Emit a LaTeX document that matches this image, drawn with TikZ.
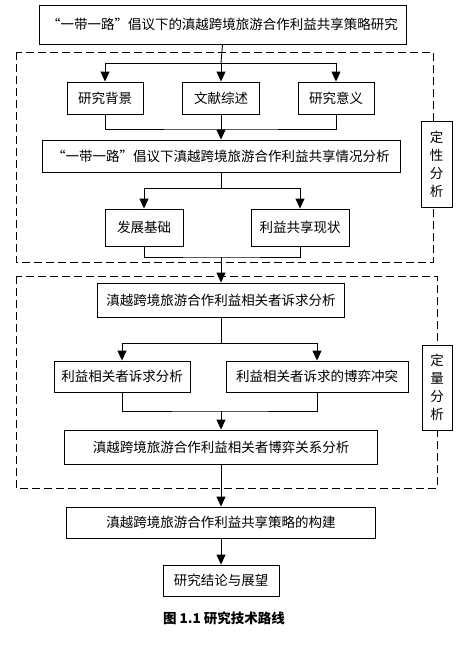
\documentclass[tikz,border=0pt]{standalone}
\usepackage{fontspec}
\setmainfont{Noto Sans CJK SC}
\usetikzlibrary{arrows.meta}
\tikzset{
  box/.style={draw, fill=white, line width=0.9pt, inner sep=0pt, anchor=center, font=\fontsize{13.5}{15}\selectfont},
  sidebox/.style={box, align=center, font=\fontsize{13.5}{18}\selectfont},
  arr/.style={-{Triangle[length=10pt,width=9pt]}, line width=0.9pt},
  ln/.style={line width=0.9pt},
  dbox/.style={draw, line width=0.9pt, dash pattern=on 8pt off 4pt}
}
\begin{document}
\begin{tikzpicture}[x=1pt,y=-1pt]
\useasboundingbox (0,0) rectangle (463,646);
% dashed groups
\draw[dbox] (16,52) rectangle (433,262);
\draw[dbox] (16,276) rectangle (437,488);
% nodes
\node[box, minimum width=367, minimum height=39] (top) at (222.5,24.5) {“一带一路”倡议下的滇越跨境旅游合作利益共享策略研究};
\node[box, minimum width=76, minimum height=32] (bg) at (105,98) {研究背景};
\node[box, minimum width=77, minimum height=32] (wx) at (221,98) {文献综述};
\node[box, minimum width=76, minimum height=32] (yy) at (336,98) {研究意义};
\node[box, minimum width=358, minimum height=32] (qk) at (221,156) {“一带一路”倡议下滇越跨境旅游合作利益共享情况分析};
\node[box, minimum width=78, minimum height=37] (fz) at (144,227.5) {发展基础};
\node[box, minimum width=98, minimum height=37] (xz) at (300,227.5) {利益共享现状};
\node[sidebox, minimum width=31, minimum height=86] (dx) at (436.5,164) {定\\性\\分\\析};
\node[box, minimum width=247, minimum height=34] (sq) at (221,300) {滇越跨境旅游合作利益相关者诉求分析};
\node[box, minimum width=136, minimum height=31] (s1) at (122,376.5) {利益相关者诉求分析};
\node[box, minimum width=182, minimum height=31] (s2) at (317,376.5) {利益相关者诉求的博弈冲突};
\node[box, minimum width=313, minimum height=34] (gx) at (221,447) {滇越跨境旅游合作利益相关者博弈关系分析};
\node[sidebox, minimum width=30, minimum height=85] (dl) at (437,387.5) {定\\量\\分\\析};
\node[box, minimum width=309, minimum height=31] (gj) at (221,522.5) {滇越跨境旅游合作利益共享策略的构建};
\node[box, minimum width=116, minimum height=31] (jl) at (221,580.5) {研究结论与展望};
\node[font=\fontsize{13.5}{15}\selectfont\bfseries] (cap) at (224,618) {图 1.1 研究技术路线};
% junctions
\coordinate (j1) at (221,63);
\coordinate (j2) at (221,129);
\coordinate (j3) at (221,188);
\coordinate (j4) at (221,257);
\coordinate (j5) at (221,343);
\coordinate (j6) at (221,411);
% connectors
\draw[ln] (top.south) -- (j1);
\draw[arr] (j1) -| (bg.north);
\draw[arr] (j1) -| (yy.north);
\draw[arr] (j1) -- (wx.north);
\draw[ln] (bg.south) |- (j2) -| (yy.south);
\draw[arr] (wx.south) -- (qk.north);
\draw[ln] (qk.south) -- (j3);
\draw[arr] (j3) -| (fz.north);
\draw[arr] (j3) -| (xz.north);
\draw[ln] (fz.south) |- (j4) -| (xz.south);
\draw[arr] (j4) -- (sq.north);
\draw[ln] (sq.south) -- (j5);
\draw[arr] (j5) -| (s1.north);
\draw[arr] (j5) -| (s2.north);
\draw[ln] (s1.south) |- (j6) -| (s2.south);
\draw[arr] (j6) -- (gx.north);
\draw[arr] (gx.south) -- (gj.north);
\draw[arr] (gj.south) -- (jl.north);
\end{tikzpicture}
\end{document}
